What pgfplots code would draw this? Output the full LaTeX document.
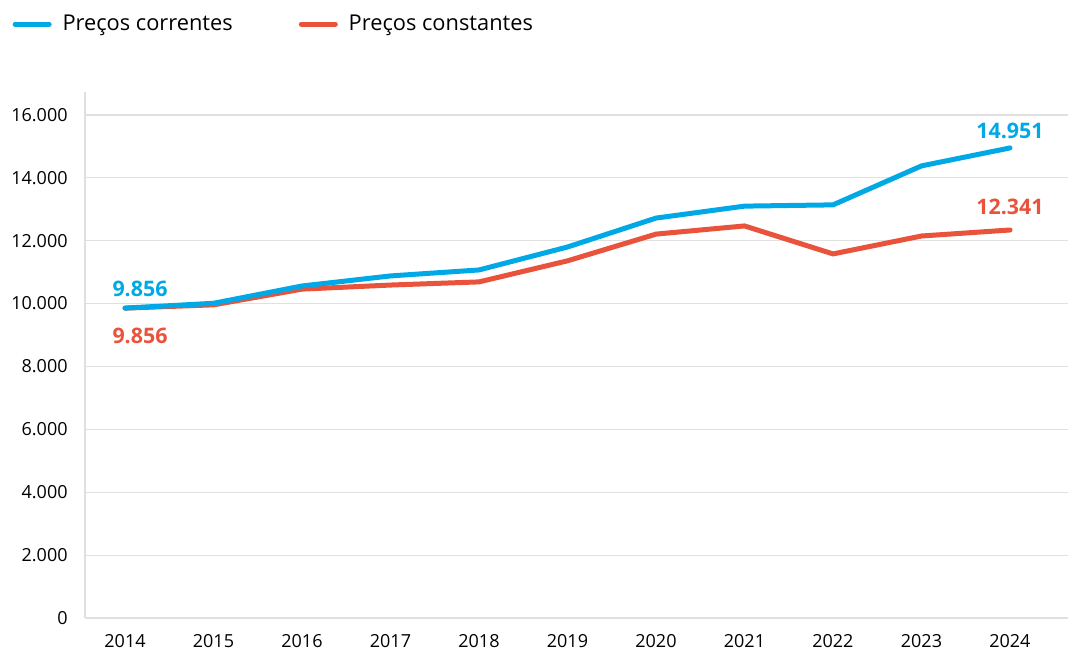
\documentclass[border=0pt]{standalone}
\usepackage{pgfplots}
\pgfplotsset{compat=1.18}
\usepackage{fontspec}
\setmainfont{Open Sans}
\definecolor{cblue}{RGB}{0,169,230}
\definecolor{cred}{RGB}{233,83,59}
\definecolor{cgrid}{RGB}{224,224,224}
\begin{document}
\begin{tikzpicture}
\path[use as bounding box] (0,0) rectangle (538pt,326.5pt);
\begin{axis}[
  at={(42.5pt,17.5pt)}, anchor=south west,
  scale only axis, width=491.5pt, height=263pt,
  xmin=2013.548, xmax=2024.655,
  ymin=0, ymax=16730,
  xtick={2014,...,2024},
  ytick={0,2000,...,16000},
  scaled y ticks=false,
  ymajorgrids, grid style={cgrid, line width=0.6pt},
  axis x line*=bottom, axis y line*=left,
  axis line style={cgrid, line width=0.6pt},
  x axis line style={-}, y axis line style={-},
  major tick length=0pt,
  /pgf/number format/assume math mode=true,
  /pgf/number format/1000 sep={.},
  x tick label style={/pgf/number format/1000 sep={}, anchor=north, inner sep=0pt, yshift=-8pt, font=\fontsize{9}{11}\selectfont},
  y tick label style={anchor=east, inner sep=0pt, xshift=-8.5pt, font=\fontsize{9}{11}\selectfont},
  legend style={draw=none, at={(-0.074,1.155)}, anchor=north west, font=\fontsize{10.9}{12}\selectfont,
    /tikz/every even column/.append style={column sep=31pt}, inner sep=0pt},
  legend columns=2,
  legend image code/.code={\draw[#1, line width=2.5pt, line cap=round] (0pt,0pt) -- (17pt,0pt); \path (21.5pt,0pt);},
]
\addlegendimage{cblue}
\addlegendentry{Preços correntes}
\addlegendimage{cred}
\addlegendentry{Preços constantes}

\addplot[cred, line width=2.5pt, line cap=round, line join=round, forget plot] coordinates {
(2014,9856) (2015,9960) (2016,10460) (2017,10590) (2018,10690) (2019,11360) (2020,12210) (2021,12470) (2022,11580) (2023,12150) (2024,12341)};
\addplot[cblue, line width=2.5pt, line cap=round, line join=round, forget plot] coordinates {
(2014,9856) (2015,10010) (2016,10560) (2017,10880) (2018,11070) (2019,11800) (2020,12720) (2021,13100) (2022,13140) (2023,14380) (2024,14951)};

\node[cblue, font=\fontsize{10.7}{13}\selectfont\bfseries, anchor=center] at (axis cs:2014,9856) [xshift=7.5pt, yshift=9.5pt] {9.856};
\node[cred, font=\fontsize{10.7}{13}\selectfont\bfseries, anchor=center] at (axis cs:2014,9856) [xshift=7.5pt, yshift=-14pt] {9.856};
\node[cblue, font=\fontsize{10.7}{13}\selectfont\bfseries, anchor=center] at (axis cs:2024,14951) [yshift=8.5pt] {14.951};
\node[cred, font=\fontsize{10.7}{13}\selectfont\bfseries, anchor=center] at (axis cs:2024,12341) [yshift=11.5pt] {12.341};
\end{axis}
\end{tikzpicture}
\end{document}
